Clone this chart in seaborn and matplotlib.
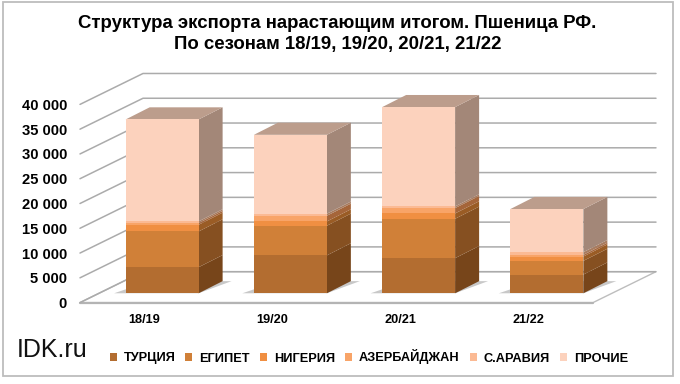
import numpy as np
import matplotlib
matplotlib.use("Agg")
import matplotlib.pyplot as plt
import seaborn as sns
from matplotlib.patches import Rectangle

seasons = ["18/19", "19/20", "20/21", "21/22"]
turkey = [5260, 7650, 7090, 3780]
egypt = [7220, 5980, 7950, 2760]
nigeria = [1350, 870, 1080, 880]
azerbaijan = [340, 1150, 1080, 340]
arabia = [340, 410, 340, 540]
others = [20570, 15920, 20030, 8700]

names = ["ТУРЦИЯ", "ЕГИПЕТ", "НИГЕРИЯ", "АЗЕРБАЙДЖАН", "С.АРАВИЯ", "ПРОЧИЕ"]
series = [turkey, egypt, nigeria, azerbaijan, arabia, others]
front_cols = ["#B36D30", "#D08038", "#F08F42", "#F8A468", "#FBBA94", "#FCD2BD"]
side_cols = ["#77451A", "#865021", "#9A5C25", "#A5653A", "#A87C60", "#A38778"]
top_col = "#BC9D8C"
y_ticks = [0, 5000, 10000, 15000, 20000, 25000, 30000, 35000, 40000]

sns.set_theme(style="white")
plt.rcParams["font.family"] = ["Liberation Sans", "DejaVu Sans"]

W, H = 680, 384
fig = plt.figure(figsize=(W / 100, H / 100), dpi=100)
ax = fig.add_axes([80 / W, 1 - 302.6 / H, 513 / W, 198.2 / H])
ax.patch.set_alpha(0)

# oblique depth of the fake 3D box, in data units
floor_dx, floor_dy = 63 / 128.25, 6240
gap_dx, gap_dy = 18 / 128.25, 1880
bar_dx, bar_dy = 24 / 128.25, 2450
bar_w = 0.569
grid_col = "#ABABAB"

# floor and walls
ax.fill([-0.5, 3.5, 3.5 + floor_dx, -0.5 + floor_dx], [0, 0, floor_dy, floor_dy],
        facecolor="white", edgecolor="#BDBDBD", lw=1, clip_on=False, zorder=1)
ax.plot([-0.5, 3.5], [0, 0], color="#B4B4B4", lw=1.6, clip_on=False, zorder=1)
for v in y_ticks:
    ax.plot([-0.5, -0.5 + floor_dx, 3.5 + floor_dx], [v, v + floor_dy, v + floor_dy],
            color=grid_col, lw=1.1, clip_on=False, zorder=1)

xpos = np.arange(len(seasons))
bottom = np.zeros(len(seasons))

# shadows on the floor
for x in xpos:
    x0 = x + gap_dx - bar_w / 2
    x1 = x + gap_dx + bar_w / 2
    ax.fill([x0 - 0.09, x1, x1 + bar_dx + 0.07, x0 + bar_dx],
            [gap_dy, gap_dy, gap_dy + bar_dy, gap_dy + bar_dy],
            color="#C8C8C8", lw=0, clip_on=False, zorder=2)

for name, vals, fc, sc in zip(names, series, front_cols, side_cols):
    vals = np.array(vals)
    sns.barplot(x=xpos + gap_dx, y=vals, bottom=bottom + gap_dy, native_scale=True,
                width=bar_w, color=fc, saturation=1, errorbar=None, label=name,
                ax=ax, zorder=4, linewidth=0)
    for x, b, v in zip(xpos, bottom, vals):
        xr = x + gap_dx + bar_w / 2
        y0 = b + gap_dy
        ax.fill([xr, xr + bar_dx, xr + bar_dx, xr],
                [y0, y0 + bar_dy, y0 + v + bar_dy, y0 + v],
                color=sc, lw=0, clip_on=False, zorder=3)
    bottom = bottom + vals

# top faces
for x, t in zip(xpos, bottom):
    xl = x + gap_dx - bar_w / 2
    xr = x + gap_dx + bar_w / 2
    y0 = t + gap_dy
    ax.fill([xl, xr, xr + bar_dx, xl + bar_dx], [y0, y0, y0 + bar_dy, y0 + bar_dy],
            color=top_col, lw=0, clip_on=False, zorder=3)

ax.set_xlim(-0.5, 3.5)
ax.set_ylim(0, 40000)
ax.set_xticks(xpos)
ax.set_xticklabels(seasons, fontsize=9.2, fontweight="bold", color="black")
ax.set_yticks(y_ticks)
ax.set_yticklabels([f"{v:,}".replace(",", " ") for v in y_ticks],
                   fontsize=10.6, fontweight="bold", color="black")
ax.tick_params(axis="x", length=0, pad=8.5)
ax.tick_params(axis="y", length=0, pad=9.4)
ax.set_xlabel("")
ax.set_ylabel("")
sns.despine(ax=ax, left=True, bottom=True)

fig.text(337.5 / W, 1 - 24 / H, "Структура экспорта нарастающим итогом. Пшеница РФ.",
         ha="center", va="center", fontsize=13.4, fontweight="bold", color="black")
fig.text(338 / W, 1 - 45 / H, "По сезонам 18/19, 19/20, 20/21, 21/22",
         ha="center", va="center", fontsize=13.4, fontweight="bold", color="black")
fig.text(17 / W, 1 - 350 / H, "IDK.ru", ha="left", va="center", fontsize=18, color="#111111")

handles, labels = ax.get_legend_handles_labels()
leg = ax.legend(handles, labels, ncols=6, loc="center left",
                bbox_to_anchor=(109.5 / W, 1 - 357 / H), bbox_transform=fig.transFigure,
                frameon=False, fontsize=9.2, handlelength=0.55, handleheight=0.55,
                handletextpad=0.55, columnspacing=0.78, borderpad=0, borderaxespad=0)
for t in leg.get_texts():
    t.set_color("black")
    t.set_fontweight("bold")

# chart frame
fig.add_artist(Rectangle((3 / W, 1 - 376 / H), 670 / W, 374 / H, transform=fig.transFigure,
                         fill=False, edgecolor="#BDBDBD", lw=1.3))

fig.savefig("out.png", dpi=100)
